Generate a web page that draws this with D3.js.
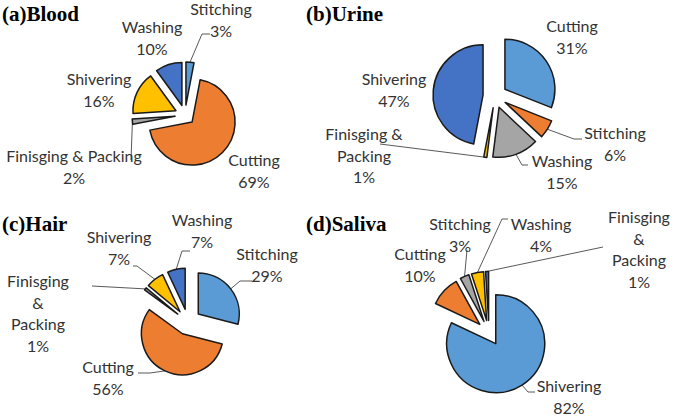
<!DOCTYPE html>
<html lang="en">

<head>
    <meta charset="utf-8">
    <title>Exploded pies by sample type</title>
    <script type="text/javascript" src="https://cdn.jsdelivr.net/npm/d3@7"></script>
    <style type="text/css">
        body {
            margin: 0;
            background: #fff;
        }
        .title {
            font-family: "Liberation Serif", "Times New Roman", serif;
            font-weight: bold;
            font-size: 21px;
            fill: #000;
        }
        .label {
            font-family: Lato, "Noto Sans", sans-serif;
            font-size: 16px;
            fill: #333;
        }
    </style>
</head>

<body>
    <script type="text/javascript">

        var w = 675;
        var h = 418;

        // slice colours, in slice order (Office palette)
        var colors = ["#5B9BD5", "#ED7D31", "#A5A5A5", "#FFC000", "#4472C4"];

        // (a) Blood
        var bloodCategories = ["Stitching", "Cutting", "Finisging & Packing", "Shivering", "Washing"];
        var bloodValues = [3, 69, 2, 16, 10];

        // (b) Urine
        var urineCategories = ["Cutting", "Stitching", "Washing", "Finisging & Packing", "Shivering"];
        var urineValues = [31, 6, 15, 1, 47];

        // (c) Hair
        var hairCategories = ["Stitching", "Cutting", "Finisging & Packing", "Shivering", "Washing"];
        var hairValues = [29, 56, 1, 7, 7];

        // (d) Saliva
        var salivaCategories = ["Shivering", "Cutting", "Stitching", "Washing", "Finisging & Packing"];
        var salivaValues = [82, 10, 3, 4, 1];

        // layout of each panel: label anchors (centre x, first baseline) and leader lines
        var panels = [
            {
                title: "(a)Blood", tx: 2, ty: 21,
                cats: bloodCategories, vals: bloodValues,
                cx: 185, cy: 115, r: 43, explode: 10, wrap: 200,
                labels: [[221, 15], [254, 166], [74, 162], [99, 85], [152, 33]],
                leaders: [[[210, 34], [202, 34]], null, [[131, 160]], null, null]
            },
            {
                title: "(b)Urine", tx: 306, ty: 21,
                cats: urineCategories, vals: urineValues,
                cx: 495, cy: 96, r: 50, explode: 12, wrap: 85,
                labels: [[572, 32], [615, 139], [562, 167], [364, 140], [394, 85]],
                leaders: [null, [[582, 139], [574, 139]], [[528, 165], [522, 165]], [[380, 144]], null]
            },
            {
                title: "(c)Hair", tx: 2, ty: 231,
                cats: hairCategories, vals: hairValues,
                cx: 188, cy: 322, r: 41, explode: 13, wrap: 60,
                labels: [[267, 260], [108, 373], [38, 287], [119, 243], [202, 226]],
                leaders: [[[252, 281], [240, 281]], [[138, 373], [150, 373]], [[92, 286]],
                          [[133, 266], [137, 266]], [[190, 251], [182, 251]]]
            },
            {
                title: "(d)Saliva", tx: 306, ty: 231,
                cats: salivaCategories, vals: salivaValues,
                cx: 489, cy: 333, r: 49, explode: 12.6, wrap: 60,
                labels: [[569, 392], [420, 260], [460, 230], [541, 230], [639, 223]],
                leaders: [[[535, 392], [528, 392]], null, [[467, 250]],
                          [[508, 219], [502, 219]], [[603, 247]]]
            }
        ];

        var lineHeight = 21.6;

        //Create SVG element
        var svg = d3.select("body")
            .append("svg")
            .attr("width", w)
            .attr("height", h);

        var pie = d3.pie()
            .sort(null)
            .value(function (d) { return d; });

        var line = d3.line();

        // greedy word wrap, measured with a scratch text node
        var scratch = svg.append("text").attr("class", "label").attr("x", -999).attr("y", -999);
        function wrapWords(str, maxW) {
            var words = str.split(" ");
            var lines = [];
            var cur = "";
            words.forEach(function (wd) {
                var test = cur ? cur + " " + wd : wd;
                scratch.text(test);
                if (cur && scratch.node().getComputedTextLength() > maxW) {
                    lines.push(cur);
                    cur = wd;
                } else {
                    cur = test;
                }
            });
            lines.push(cur);
            return lines;
        }

        panels.forEach(function (p) {

            var arc = d3.arc()
                .innerRadius(0)
                .outerRadius(p.r);

            var arcs = pie(p.vals);

            var mid = function (d) { return (d.startAngle + d.endAngle) / 2; };

            // leader lines (under the slices)
            svg.append("g")
                .selectAll("path")
                .data(arcs.filter(function (d) { return p.leaders[d.index]; }))
                .enter()
                .append("path")
                .attr("d", function (d) {
                    var a = mid(d);
                    var k = p.explode + p.r;
                    var pts = p.leaders[d.index].slice();
                    pts.push([p.cx + k * Math.sin(a), p.cy - k * Math.cos(a)]);
                    return line(pts);
                })
                .attr("fill", "none")
                .attr("stroke", "#595959")
                .attr("stroke-width", 1);

            var g = svg.append("g")
                .attr("transform", "translate(" + p.cx + "," + p.cy + ")");

            g.selectAll("path")
                .data(arcs)
                .enter()
                .append("path")
                .attr("d", arc)
                .attr("transform", function (d) {
                    var a = mid(d);
                    return "translate(" + (p.explode * Math.sin(a)) + "," + (-p.explode * Math.cos(a)) + ")";
                })
                .attr("fill", function (d) { return colors[d.index]; })
                .attr("stroke", "#1a1a1a")
                .attr("stroke-width", 1.5)
                .attr("stroke-linejoin", "round");

            // data labels
            var labels = svg.append("g")
                .selectAll("text")
                .data(arcs)
                .enter()
                .append("text")
                .attr("class", "label")
                .attr("text-anchor", "middle")
                .attr("x", function (d) { return p.labels[d.index][0]; })
                .attr("y", function (d) { return p.labels[d.index][1]; });

            labels.each(function (d) {
                var lines = wrapWords(p.cats[d.index], p.wrap);
                lines.push(d.data + "%");
                var t = d3.select(this);
                var x = p.labels[d.index][0];
                lines.forEach(function (s, i) {
                    t.append("tspan")
                        .attr("x", x)
                        .attr("dy", i === 0 ? 0 : lineHeight)
                        .text(s);
                });
            });

            svg.append("text")
                .attr("class", "title")
                .attr("x", p.tx)
                .attr("y", p.ty)
                .text(p.title);
        });

        scratch.remove();

    </script>
</body>

</html>
